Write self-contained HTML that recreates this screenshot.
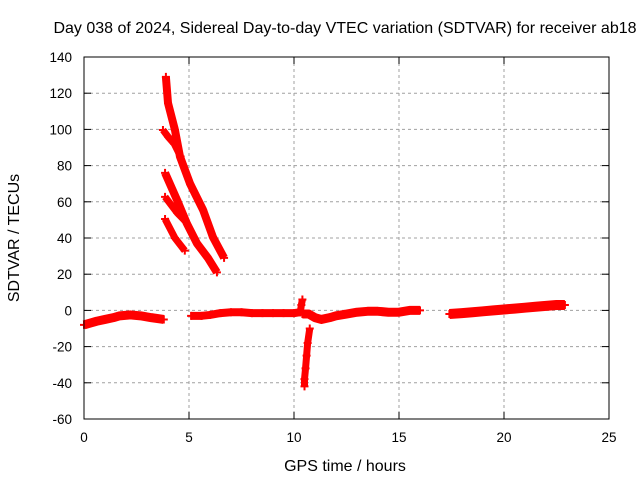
<!DOCTYPE html>
<html><head><meta charset="utf-8"><style>
body{margin:0;background:#fff;}
svg text{font-family:"Liberation Sans",sans-serif;fill:#000;}
</style></head><body>
<svg id="chart" width="640" height="480" viewBox="0 0 640 480" xmlns="http://www.w3.org/2000/svg">
<text x="345" y="33" font-size="16" text-anchor="middle">Day 038 of 2024, Sidereal Day-to-day VTEC variation (SDTVAR) for receiver ab18</text>
<text x="345" y="471" font-size="16" text-anchor="middle">GPS time / hours</text>
<text x="0" y="0" font-size="16" text-anchor="middle" transform="translate(19,238) rotate(-90)">SDTVAR / TECUs</text>
<g id="grid"></g>
<g id="ticks"></g>
<g id="series"></g>
<rect x="84" y="57" width="525" height="362" fill="none" stroke="#000" stroke-width="1"/>
</svg>
<script>
const xTicks=[0,5,10,15,20,25];
const yTicks=[-60,-40,-20,0,20,40,60,80,100,120,140];
const baseline1=[[0,-8],[0.3,-7],[0.6,-6],[1,-5],[1.4,-4],[1.7,-3],[2.2,-2.5],[2.7,-3],[3.2,-4],[3.8,-5]];
const baseline2=[[5.1,-3],[5.6,-3],[6,-2.5],[6.5,-1.5],[7,-1],[7.5,-1],[8,-1.5],[8.5,-1.5],[9,-1.5],[9.5,-1.5],[10,-1.5],[10.3,-1]];
const spikeUp=[[10.3,-1],[10.35,3],[10.4,6]];
const spikeDown=[[10.75,-10],[10.65,-18],[10.6,-25],[10.55,-32],[10.5,-38],[10.5,-42]];
const baseline3=[[10.4,-2],[10.7,-2],[11,-4],[11.3,-5],[11.7,-4],[12,-3],[12.5,-2],[13,-1],[13.5,-0.5],[14,-0.5],[14.5,-1],[15,-1],[15.5,0],[16,0]];
const baseline4=[[17.4,-2],[18,-1.5],[18.5,-1],[19,-0.5],[19.5,0],[20,0.5],[20.5,1],[21,1.5],[21.5,2],[22,2.5],[22.5,3],[22.9,3]];
const arcA=[[3.9,129],[4.0,114.6],[4.33,99.7],[4.57,85],[5.05,70],[5.67,55.5],[6.14,40.5],[6.67,29]];
const arcB=[[3.76,99.7],[4.0,96],[4.3,92],[4.6,85]];
const arcC=[[3.86,76],[4.43,61],[4.9,48],[5.38,37],[5.9,29],[6.33,21]];
const arcD=[[3.86,62.7],[4.43,54],[4.85,49]];
const arcE=[[3.86,50.5],[4.33,40],[4.8,33]];
const seriesList=[baseline1,baseline2,spikeUp,spikeDown,baseline3,baseline4,arcA,arcB,arcC,arcD,arcE];
const widths=[9,8,7,7,9,10,8,7,8,7,7];
const X=v=>84+v*21, Y=v=>57+(140-v)*1.81;
const NS="http://www.w3.org/2000/svg";
const grid=document.getElementById('grid'),ticks=document.getElementById('ticks'),ser=document.getElementById('series');
function mk(tag,at,parent){const e=document.createElementNS(NS,tag);for(const k in at)e.setAttribute(k,at[k]);parent.appendChild(e);return e;}
xTicks.forEach(t=>{
 if(t>0&&t<25){const l=mk('line',{x1:X(t),x2:X(t),y1:57,y2:419,stroke:'#a0a0a0','stroke-dasharray':'3,3'},grid);
 
 }
 const tx=mk('text',{x:X(t),y:442,'font-size':'13.5','text-anchor':'middle'},ticks);tx.textContent=t;
 
 
 mk('line',{x1:X(t),x2:X(t),y1:419,y2:412,stroke:'#000'},ticks);
 mk('line',{x1:X(t),x2:X(t),y1:57,y2:64,stroke:'#000'},ticks);
});
yTicks.forEach(t=>{
 if(t>-60&&t<140){const l=mk('line',{x1:84,x2:609,y1:Y(t),y2:Y(t),stroke:'#a0a0a0','stroke-dasharray':'3,3'},grid);
 
 }
 const tx=mk('text',{x:72,y:Y(t)+5,'font-size':'13.5','text-anchor':'end'},ticks);tx.textContent=t;
 
 
 mk('line',{x1:84,x2:91,y1:Y(t),y2:Y(t),stroke:'#000'},ticks);
 mk('line',{x1:602,x2:609,y1:Y(t),y2:Y(t),stroke:'#000'},ticks);
});
seriesList.forEach((s,i)=>{
 const p=mk('polyline',{points:s.map(d=>X(d[0])+','+Y(d[1])).join(' '),fill:'none',stroke:'#f00','stroke-width':widths[i],'stroke-linecap':'butt','stroke-linejoin':'round'},ser);
 
 
 s.forEach(d=>{
  const m=mk('path',{d:`M${X(d[0])-4},${Y(d[1])}h8M${X(d[0])},${Y(d[1])-4}v8`,stroke:'#f00','stroke-width':'2'},ser);
  
  
 });
});
</script>
</body></html>
